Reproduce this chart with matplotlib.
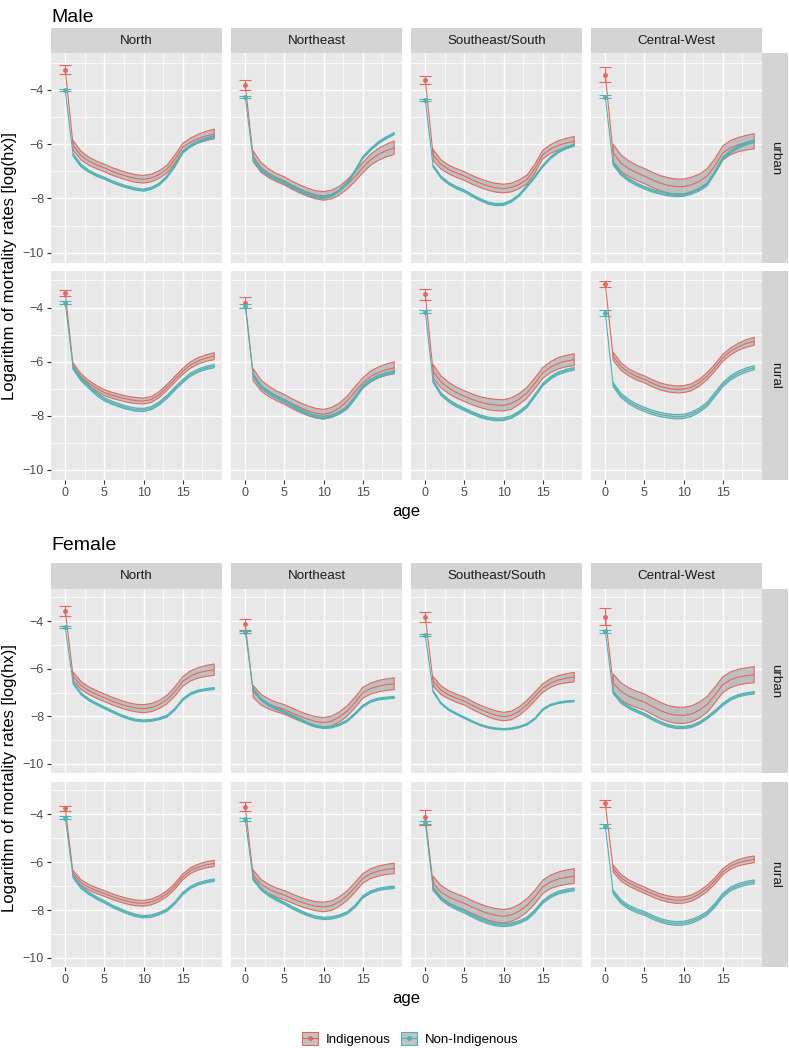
import numpy as np
import matplotlib
matplotlib.use("Agg")
import matplotlib.pyplot as plt
from matplotlib.patches import Patch
from matplotlib.lines import Line2D

plt.rcParams['font.family'] = ['Liberation Sans', 'DejaVu Sans']

regions = ["North", "Northeast", "Southeast/South", "Central-West"]
areas = ["urban", "rural"]
groups = ["Indigenous", "Non-Indigenous"]
ages = list(range(20))

# log(hx) by age 0..19, one row per region
male_urban_ind = [
    [-3.27, -6.05, -6.42, -6.63, -6.77, -6.88, -7.01, -7.11, -7.20, -7.27, -7.30, -7.25, -7.12, -6.92, -6.55, -6.12, -5.93, -5.80, -5.70, -5.63],
    [-3.82, -6.45, -6.86, -7.08, -7.24, -7.36, -7.52, -7.66, -7.78, -7.87, -7.91, -7.86, -7.72, -7.49, -7.20, -6.87, -6.58, -6.38, -6.24, -6.14],
    [-3.63, -6.40, -6.75, -6.94, -7.07, -7.18, -7.32, -7.44, -7.54, -7.61, -7.64, -7.60, -7.48, -7.30, -6.90, -6.39, -6.18, -6.05, -5.96, -5.90],
    [-3.45, -6.33, -6.70, -6.91, -7.06, -7.18, -7.32, -7.44, -7.52, -7.57, -7.57, -7.50, -7.38, -7.18, -6.80, -6.33, -6.13, -6.02, -5.95, -5.90],
]
male_urban_non = [
    [-4.02, -6.40, -6.79, -7.00, -7.15, -7.26, -7.39, -7.50, -7.59, -7.66, -7.70, -7.63, -7.48, -7.20, -6.80, -6.30, -6.07, -5.92, -5.81, -5.73],
    [-4.28, -6.55, -6.95, -7.15, -7.30, -7.42, -7.58, -7.72, -7.85, -7.94, -7.97, -7.90, -7.72, -7.43, -7.00, -6.50, -6.20, -5.95, -5.77, -5.62],
    [-4.37, -6.81, -7.22, -7.45, -7.61, -7.73, -7.90, -8.05, -8.17, -8.23, -8.22, -8.10, -7.88, -7.55, -7.20, -6.81, -6.50, -6.28, -6.14, -6.04],
    [-4.26, -6.72, -7.10, -7.32, -7.48, -7.61, -7.72, -7.80, -7.86, -7.89, -7.88, -7.80, -7.68, -7.49, -7.05, -6.54, -6.28, -6.10, -5.98, -5.90],
]
male_rural_ind = [
    [-3.47, -6.15, -6.55, -6.80, -6.99, -7.15, -7.25, -7.33, -7.40, -7.44, -7.46, -7.40, -7.22, -6.95, -6.65, -6.36, -6.12, -5.97, -5.87, -5.80],
    [-3.82, -6.48, -6.88, -7.10, -7.27, -7.40, -7.56, -7.70, -7.82, -7.91, -7.95, -7.88, -7.72, -7.46, -7.12, -6.79, -6.55, -6.40, -6.30, -6.23],
    [-3.51, -6.36, -6.75, -6.98, -7.15, -7.28, -7.40, -7.50, -7.57, -7.61, -7.62, -7.55, -7.38, -7.15, -6.80, -6.42, -6.20, -6.06, -5.98, -5.93],
    [-3.13, -5.80, -6.18, -6.40, -6.55, -6.66, -6.80, -6.92, -6.99, -7.03, -7.02, -6.95, -6.78, -6.54, -6.22, -5.86, -5.62, -5.45, -5.33, -5.25],
]
male_rural_non = [
    [-3.82, -6.23, -6.65, -6.93, -7.20, -7.40, -7.53, -7.63, -7.72, -7.78, -7.79, -7.72, -7.55, -7.30, -7.00, -6.72, -6.48, -6.33, -6.23, -6.17],
    [-3.94, -6.50, -6.93, -7.15, -7.32, -7.46, -7.63, -7.79, -7.93, -8.03, -8.07, -8.02, -7.90, -7.71, -7.35, -6.93, -6.70, -6.55, -6.45, -6.39],
    [-4.15, -6.73, -7.20, -7.45, -7.63, -7.77, -7.90, -8.02, -8.10, -8.14, -8.13, -8.05, -7.88, -7.65, -7.25, -6.85, -6.60, -6.43, -6.33, -6.27],
    [-4.21, -6.85, -7.25, -7.48, -7.65, -7.77, -7.88, -7.96, -8.01, -8.04, -8.03, -7.95, -7.80, -7.58, -7.22, -6.85, -6.60, -6.43, -6.31, -6.23],
]
female_urban_ind = [
    [-3.57, -6.32, -6.70, -6.92, -7.08, -7.22, -7.36, -7.48, -7.58, -7.65, -7.68, -7.63, -7.50, -7.29, -6.95, -6.53, -6.30, -6.17, -6.09, -6.04],
    [-4.14, -6.95, -7.30, -7.48, -7.61, -7.71, -7.86, -8.00, -8.12, -8.22, -8.26, -8.20, -8.03, -7.78, -7.42, -7.01, -6.83, -6.73, -6.67, -6.63],
    [-3.82, -6.53, -6.90, -7.10, -7.24, -7.36, -7.54, -7.70, -7.84, -7.95, -8.01, -7.96, -7.78, -7.50, -7.16, -6.81, -6.60, -6.47, -6.40, -6.35],
    [-3.82, -6.60, -6.95, -7.15, -7.29, -7.40, -7.58, -7.75, -7.88, -7.95, -7.96, -7.90, -7.74, -7.50, -7.10, -6.67, -6.46, -6.35, -6.29, -6.25],
]
female_urban_non = [
    [-4.26, -6.60, -7.05, -7.30, -7.48, -7.64, -7.80, -7.95, -8.07, -8.16, -8.19, -8.17, -8.10, -7.99, -7.70, -7.29, -7.05, -6.93, -6.87, -6.83],
    [-4.44, -6.85, -7.28, -7.52, -7.68, -7.82, -7.98, -8.14, -8.30, -8.42, -8.47, -8.45, -8.35, -8.19, -7.90, -7.57, -7.37, -7.27, -7.23, -7.20],
    [-4.58, -6.95, -7.45, -7.72, -7.90, -8.06, -8.22, -8.36, -8.46, -8.52, -8.54, -8.52, -8.45, -8.33, -8.10, -7.71, -7.52, -7.43, -7.38, -7.36],
    [-4.42, -6.99, -7.40, -7.62, -7.78, -7.92, -8.10, -8.26, -8.39, -8.46, -8.47, -8.42, -8.28, -8.06, -7.80, -7.50, -7.27, -7.13, -7.06, -7.01],
]
female_rural_ind = [
    [-3.75, -6.47, -6.85, -7.05, -7.19, -7.31, -7.44, -7.55, -7.64, -7.70, -7.72, -7.66, -7.52, -7.31, -7.00, -6.61, -6.35, -6.20, -6.11, -6.05],
    [-3.68, -6.54, -6.92, -7.12, -7.27, -7.38, -7.52, -7.65, -7.76, -7.84, -7.87, -7.82, -7.65, -7.40, -7.05, -6.68, -6.48, -6.37, -6.30, -6.26],
    [-4.13, -6.89, -7.25, -7.45, -7.60, -7.72, -7.88, -8.02, -8.14, -8.22, -8.26, -8.20, -8.04, -7.80, -7.45, -7.03, -6.82, -6.70, -6.63, -6.58],
    [-3.54, -6.26, -6.65, -6.87, -7.03, -7.17, -7.32, -7.45, -7.54, -7.59, -7.58, -7.50, -7.33, -7.10, -6.78, -6.40, -6.16, -6.02, -5.94, -5.88],
]
female_rural_non = [
    [-4.14, -6.61, -7.05, -7.30, -7.50, -7.66, -7.84, -7.99, -8.12, -8.23, -8.28, -8.25, -8.15, -8.00, -7.70, -7.31, -7.05, -6.90, -6.81, -6.75],
    [-4.21, -6.68, -7.12, -7.37, -7.56, -7.72, -7.90, -8.06, -8.20, -8.30, -8.35, -8.33, -8.25, -8.12, -7.85, -7.45, -7.25, -7.14, -7.08, -7.05],
    [-4.34, -7.10, -7.52, -7.76, -7.93, -8.07, -8.24, -8.40, -8.52, -8.60, -8.63, -8.60, -8.50, -8.35, -8.05, -7.66, -7.42, -7.27, -7.19, -7.14],
    [-4.49, -7.24, -7.65, -7.88, -8.03, -8.14, -8.30, -8.43, -8.52, -8.56, -8.55, -8.47, -8.33, -8.14, -7.80, -7.38, -7.12, -6.97, -6.88, -6.82],
]

# half-width of the interval (age 0 = error bar, ages 1..19 = ribbon)
male_urban_ind_hw = [
    [0.17, 0.18, 0.16, 0.15, 0.14, 0.14, 0.14, 0.14, 0.14, 0.14, 0.14, 0.14, 0.14, 0.14, 0.15, 0.15, 0.15, 0.16, 0.17, 0.18],
    [0.18, 0.20, 0.18, 0.16, 0.15, 0.15, 0.15, 0.15, 0.15, 0.15, 0.16, 0.16, 0.16, 0.17, 0.18, 0.19, 0.20, 0.22, 0.23, 0.25],
    [0.15, 0.20, 0.17, 0.16, 0.16, 0.16, 0.16, 0.16, 0.16, 0.16, 0.16, 0.16, 0.16, 0.16, 0.16, 0.16, 0.16, 0.17, 0.17, 0.18],
    [0.27, 0.32, 0.30, 0.29, 0.28, 0.28, 0.28, 0.28, 0.28, 0.28, 0.28, 0.28, 0.27, 0.27, 0.26, 0.26, 0.26, 0.26, 0.27, 0.28],
]
male_urban_non_hw = [
    [0.03, 0.05, 0.05, 0.04, 0.04, 0.04, 0.04, 0.04, 0.04, 0.04, 0.04, 0.04, 0.04, 0.04, 0.04, 0.04, 0.04, 0.04, 0.04, 0.05],
    [0.04, 0.05, 0.04, 0.04, 0.04, 0.04, 0.04, 0.04, 0.04, 0.04, 0.04, 0.04, 0.04, 0.04, 0.04, 0.04, 0.04, 0.04, 0.04, 0.04],
    [0.04, 0.04, 0.04, 0.04, 0.04, 0.04, 0.04, 0.04, 0.04, 0.04, 0.04, 0.04, 0.04, 0.04, 0.04, 0.04, 0.04, 0.04, 0.04, 0.04],
    [0.05, 0.05, 0.05, 0.05, 0.05, 0.05, 0.05, 0.05, 0.05, 0.05, 0.05, 0.05, 0.05, 0.05, 0.05, 0.05, 0.05, 0.05, 0.05, 0.05],
]
male_rural_ind_hw = [
    [0.10, 0.10, 0.10, 0.10, 0.10, 0.11, 0.11, 0.11, 0.11, 0.11, 0.11, 0.11, 0.11, 0.11, 0.11, 0.11, 0.12, 0.12, 0.12, 0.13],
    [0.19, 0.22, 0.20, 0.19, 0.18, 0.18, 0.18, 0.18, 0.18, 0.18, 0.18, 0.18, 0.18, 0.18, 0.19, 0.19, 0.20, 0.20, 0.21, 0.22],
    [0.21, 0.25, 0.22, 0.21, 0.20, 0.20, 0.20, 0.20, 0.21, 0.21, 0.21, 0.21, 0.20, 0.20, 0.20, 0.20, 0.20, 0.21, 0.21, 0.22],
    [0.10, 0.15, 0.14, 0.13, 0.13, 0.13, 0.13, 0.13, 0.13, 0.13, 0.13, 0.13, 0.13, 0.13, 0.13, 0.13, 0.13, 0.13, 0.14, 0.15],
]
male_rural_non_hw = [
    [0.05, 0.06, 0.06, 0.06, 0.06, 0.06, 0.06, 0.06, 0.06, 0.06, 0.06, 0.06, 0.06, 0.06, 0.06, 0.06, 0.06, 0.06, 0.06, 0.06],
    [0.07, 0.06, 0.06, 0.05, 0.05, 0.05, 0.05, 0.05, 0.05, 0.05, 0.05, 0.05, 0.05, 0.05, 0.05, 0.05, 0.05, 0.05, 0.05, 0.05],
    [0.06, 0.05, 0.05, 0.05, 0.05, 0.05, 0.05, 0.05, 0.05, 0.05, 0.05, 0.05, 0.05, 0.05, 0.05, 0.05, 0.05, 0.05, 0.05, 0.05],
    [0.10, 0.08, 0.08, 0.08, 0.08, 0.08, 0.08, 0.08, 0.08, 0.08, 0.08, 0.08, 0.08, 0.08, 0.08, 0.08, 0.08, 0.08, 0.08, 0.08],
]
female_urban_ind_hw = [
    [0.20, 0.18, 0.17, 0.16, 0.16, 0.16, 0.16, 0.16, 0.16, 0.16, 0.17, 0.17, 0.17, 0.18, 0.19, 0.20, 0.21, 0.22, 0.23, 0.24],
    [0.25, 0.25, 0.22, 0.21, 0.20, 0.20, 0.20, 0.20, 0.20, 0.21, 0.21, 0.21, 0.21, 0.22, 0.22, 0.23, 0.23, 0.24, 0.24, 0.25],
    [0.20, 0.20, 0.18, 0.17, 0.17, 0.17, 0.17, 0.17, 0.18, 0.18, 0.18, 0.18, 0.18, 0.18, 0.18, 0.18, 0.18, 0.18, 0.19, 0.20],
    [0.36, 0.38, 0.36, 0.35, 0.34, 0.34, 0.34, 0.34, 0.34, 0.34, 0.34, 0.34, 0.34, 0.33, 0.33, 0.33, 0.33, 0.33, 0.33, 0.34],
]
female_urban_non_hw = [
    [0.04, 0.04, 0.04, 0.04, 0.04, 0.04, 0.04, 0.04, 0.04, 0.04, 0.04, 0.04, 0.04, 0.04, 0.04, 0.04, 0.04, 0.04, 0.04, 0.04],
    [0.04, 0.04, 0.04, 0.04, 0.04, 0.04, 0.04, 0.04, 0.04, 0.04, 0.04, 0.04, 0.04, 0.04, 0.04, 0.04, 0.04, 0.04, 0.04, 0.04],
    [0.03, 0.03, 0.03, 0.03, 0.03, 0.03, 0.03, 0.03, 0.03, 0.03, 0.03, 0.03, 0.03, 0.03, 0.03, 0.03, 0.03, 0.03, 0.03, 0.03],
    [0.06, 0.05, 0.05, 0.05, 0.05, 0.05, 0.05, 0.05, 0.05, 0.05, 0.05, 0.05, 0.05, 0.05, 0.05, 0.05, 0.05, 0.05, 0.05, 0.05],
]
female_rural_ind_hw = [
    [0.11, 0.12, 0.12, 0.12, 0.12, 0.12, 0.12, 0.12, 0.12, 0.12, 0.12, 0.12, 0.12, 0.12, 0.12, 0.12, 0.12, 0.12, 0.13, 0.13],
    [0.20, 0.22, 0.20, 0.19, 0.19, 0.19, 0.19, 0.19, 0.19, 0.19, 0.20, 0.20, 0.20, 0.20, 0.20, 0.20, 0.20, 0.21, 0.21, 0.22],
    [0.30, 0.30, 0.28, 0.27, 0.27, 0.27, 0.27, 0.27, 0.28, 0.28, 0.28, 0.28, 0.28, 0.28, 0.28, 0.28, 0.28, 0.29, 0.30, 0.31],
    [0.15, 0.14, 0.14, 0.13, 0.13, 0.13, 0.13, 0.13, 0.13, 0.13, 0.13, 0.13, 0.13, 0.13, 0.13, 0.13, 0.13, 0.13, 0.14, 0.14],
]
female_rural_non_hw = [
    [0.05, 0.05, 0.05, 0.05, 0.05, 0.05, 0.05, 0.05, 0.05, 0.05, 0.05, 0.05, 0.05, 0.05, 0.05, 0.05, 0.05, 0.05, 0.05, 0.05],
    [0.05, 0.05, 0.05, 0.05, 0.05, 0.05, 0.05, 0.05, 0.05, 0.05, 0.05, 0.05, 0.05, 0.05, 0.05, 0.05, 0.05, 0.05, 0.05, 0.05],
    [0.07, 0.06, 0.06, 0.06, 0.06, 0.06, 0.06, 0.06, 0.06, 0.06, 0.06, 0.06, 0.06, 0.06, 0.06, 0.06, 0.06, 0.06, 0.06, 0.06],
    [0.10, 0.08, 0.08, 0.08, 0.08, 0.08, 0.08, 0.08, 0.08, 0.08, 0.08, 0.08, 0.08, 0.08, 0.08, 0.08, 0.08, 0.08, 0.08, 0.08],
]

RED = '#E0695F'
TEAL = '#4DB3B7'
PANEL_BG = '#E8E8E8'
STRIP_BG = '#D4D4D4'

W, H = 789, 1048
fig = plt.figure(figsize=(W / 100, H / 100), dpi=100)


def box(x0, y0, x1, y1):
    return [x0 / W, 1 - y1 / H, (x1 - x0) / W, (y1 - y0) / H]


def draw_series(ax, mean, hw, color):
    x = np.array(ages)
    m = np.array(mean)
    h = np.array(hw)
    ax.fill_between(x[1:], m[1:] - h[1:], m[1:] + h[1:], facecolor='#7F7F7F', alpha=0.4,
                    edgecolor='none', zorder=2)
    ax.fill_between(x[1:], m[1:] - h[1:], m[1:] + h[1:], facecolor='none',
                    edgecolor=color, lw=0.8, zorder=3)
    ax.plot(x, m, color=color, lw=0.8, zorder=3)
    ax.errorbar([0], [m[0]], yerr=[h[0]], color=color, lw=0.8, capsize=4, capthick=0.8, zorder=3)
    ax.plot([0], [m[0]], 'o', color=color, ms=2.5, zorder=4)


col_x = [51, 231, 411, 591]
panel_w = 171
blocks = [
    ("Male", 18, (28, 53), [(53, 263), (271, 480)], 512,
     [(male_urban_ind, male_urban_ind_hw, male_urban_non, male_urban_non_hw),
      (male_rural_ind, male_rural_ind_hw, male_rural_non, male_rural_non_hw)]),
    ("Female", 545, (563, 589), [(589, 773), (782, 967)], 998,
     [(female_urban_ind, female_urban_ind_hw, female_urban_non, female_urban_non_hw),
      (female_rural_ind, female_rural_ind_hw, female_rural_non, female_rural_non_hw)]),
]

for title, ty, (st0, st1), rows, agey, data in blocks:
    fig.text(51 / W, 1 - ty / H, title, fontsize=14, va='center', ha='left')
    for c, reg in enumerate(regions):
        sax = fig.add_axes(box(col_x[c], st0, col_x[c] + panel_w, st1))
        sax.set_facecolor(STRIP_BG)
        sax.set_xticks([]); sax.set_yticks([])
        for s in sax.spines.values():
            s.set_visible(False)
        sax.text(0.5, 0.5, reg, ha='center', va='center', fontsize=9.6, color='#1A1A1A',
                 transform=sax.transAxes)
    for r, (y0, y1) in enumerate(rows):
        ind, ind_hw, non, non_hw = data[r]
        for c in range(4):
            ax = fig.add_axes(box(col_x[c], y0, col_x[c] + panel_w, y1))
            ax.set_facecolor(PANEL_BG)
            for s in ax.spines.values():
                s.set_visible(False)
            ax.set_xlim(-1.82, 20.0)
            ax.set_ylim(-10.38, -2.65)
            ax.set_xticks([0, 5, 10, 15])
            ax.set_xticks([2.5, 7.5, 12.5, 17.5], minor=True)
            ax.set_yticks([-10, -8, -6, -4])
            ax.set_yticks([-9, -7, -5, -3], minor=True)
            ax.grid(True, which='major', color='white', lw=1.0)
            ax.grid(True, which='minor', color='white', lw=0.5)
            ax.set_axisbelow(True)
            ax.tick_params(which='minor', length=0)
            ax.tick_params(which='major', length=3, width=0.8, color='#333333',
                           labelsize=9, labelcolor='#4D4D4D', pad=2)
            if c > 0:
                ax.tick_params(axis='y', which='major', left=False, labelleft=False)
            if r == 0:
                ax.tick_params(axis='x', which='major', bottom=False, labelbottom=False)
            draw_series(ax, ind[c], ind_hw[c], RED)
            draw_series(ax, non[c], non_hw[c], TEAL)
        rax = fig.add_axes(box(762, y0, 788, y1))
        rax.set_facecolor(STRIP_BG)
        rax.set_xticks([]); rax.set_yticks([])
        for s in rax.spines.values():
            s.set_visible(False)
        rax.text(0.5, 0.5, areas[r], rotation=-90, ha='center', va='center', fontsize=9.6,
                 color='#1A1A1A', transform=rax.transAxes)
    fig.text(406 / W, 1 - agey / H, "age", ha='center', va='center', fontsize=12)
    fig.text(10 / W, 1 - ((rows[0][0] + rows[1][1]) / 2) / H,
             "Logarithm of mortality rates [log(hx)]", rotation=90, ha='center',
             va='center', fontsize=12)

handles = []
for color in [RED, TEAL]:
    patch = Patch(facecolor='#C2C2C2', edgecolor=color, lw=0.8)
    line = Line2D([], [], color=color, lw=0.8, marker='o', ms=2.5)
    handles.append((patch, line))
fig.legend(handles, groups, loc='center', bbox_to_anchor=(410 / W, 1 - 1039 / H), ncol=2,
           frameon=False, fontsize=9.5, handlelength=1.2, handleheight=1.2,
           columnspacing=0.8, handletextpad=0.6)

fig.savefig("out.png", dpi=100)
